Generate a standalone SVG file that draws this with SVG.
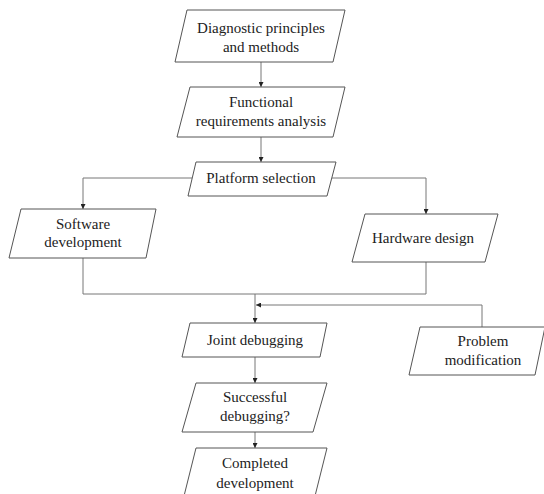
<svg xmlns="http://www.w3.org/2000/svg" width="544" height="494" viewBox="0 0 544 494">
<style>
.box{fill:#fff;stroke:#555;stroke-width:1}
.t{font-size:15px;fill:#222;text-anchor:middle}
.c{fill:none;stroke:#777;stroke-width:1}
</style>
<defs>
<marker id="ah" viewBox="0 0 6 6" refX="6" refY="3" markerWidth="5" markerHeight="5" orient="auto" markerUnits="userSpaceOnUse">
<path d="M0,0 L6,3 L0,6 Z" fill="#222"/>
</marker>
</defs>
<rect width="544" height="494" fill="#fff"/>
<g id="connectors">
<path class="c" d="M261,62 V87" marker-end="url(#ah)"/>
<path class="c" d="M261,137 V162" marker-end="url(#ah)"/>
<path class="c" d="M192,178 H83 V209" marker-end="url(#ah)"/>
<path class="c" d="M332,178 H426 V214" marker-end="url(#ah)"/>
<path class="c" d="M83,258 V294 H426 V262"/>
<path class="c" d="M255,294 V323" marker-end="url(#ah)"/>
<path class="c" d="M482,327 V305 H256" marker-end="url(#ah)"/>
<path class="c" d="M255,357 V383" marker-end="url(#ah)"/>
<path class="c" d="M255,432 V448" marker-end="url(#ah)"/>
</g>
<g font-family="'Liberation Serif', 'DejaVu Serif', serif">
<g id="n1"><polygon class="box" points="187,10 345,10 333,62 175,62"/>
<text class="t" x="261" y="33">Diagnostic principles</text><text class="t" x="261" y="52">and methods</text></g>
<g id="n2"><polygon class="box" points="190,87 345,87 333,137 177,137"/>
<text class="t" x="261" y="107">Functional</text><text class="t" x="261" y="126">requirements analysis</text></g>
<g id="n3"><polygon class="box" points="196,162 336,162 327,196 188,196"/>
<text class="t" x="261" y="183">Platform selection</text></g>
<g id="n4"><polygon class="box" points="21,209 156,209 146,258 9,258"/>
<text class="t" x="83" y="229">Software</text><text class="t" x="83" y="247">development</text></g>
<g id="n5"><polygon class="box" points="365,214 498,214 485,262 352,262"/>
<text class="t" x="423" y="243">Hardware design</text></g>
<g id="n6"><polygon class="box" points="190,323 327,323 320,357 182,357"/>
<text class="t" x="255" y="345">Joint debugging</text></g>
<g id="n7"><polygon class="box" points="420,327 545,327 535,375 409,375"/>
<text class="t" x="483" y="346">Problem</text><text class="t" x="483" y="365">modification</text></g>
<g id="n8"><polygon class="box" points="196,383 327,383 313,432 182,432"/>
<text class="t" x="255" y="402">Successful</text><text class="t" x="255" y="421">debugging?</text></g>
<g id="n9"><polygon class="box" points="196,448 327,448 314,500 183,500"/>
<text class="t" x="255" y="468">Completed</text><text class="t" x="255" y="488">development</text></g>
</g>
</svg>
